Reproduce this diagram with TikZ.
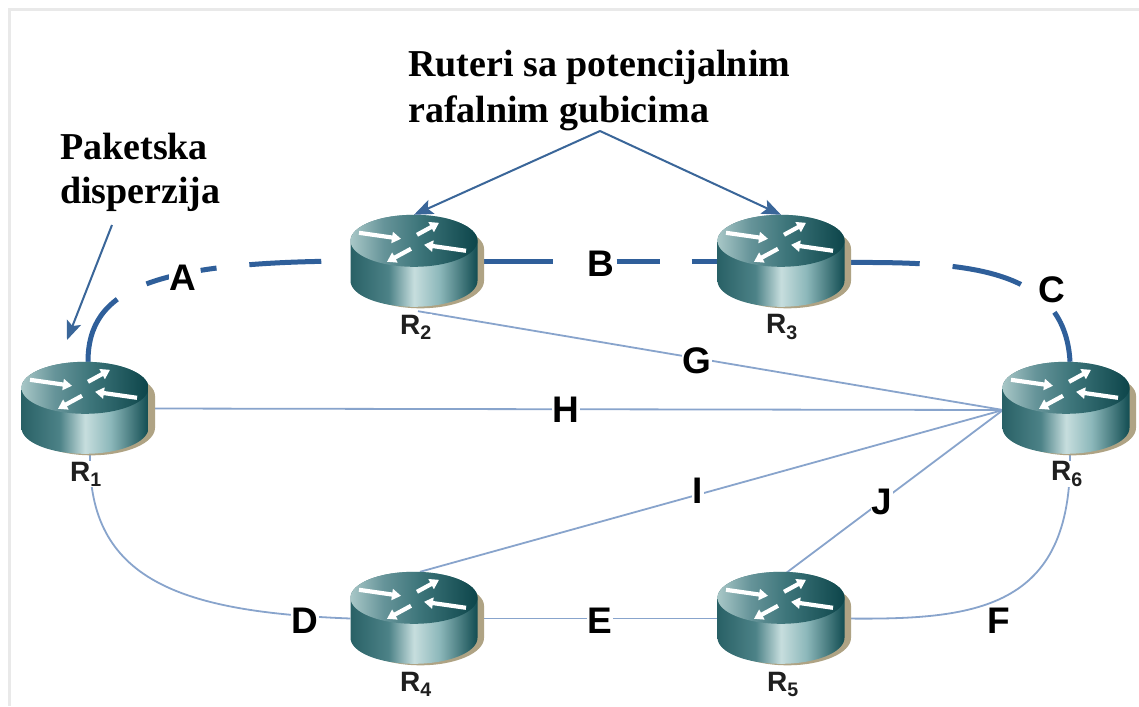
\documentclass[tikz,border=0pt]{standalone}
\usepackage{fontspec}
\setmainfont{Liberation Serif}
\newfontfamily\lblfont{Liberation Sans}
\usetikzlibrary{arrows.meta,calc}
\definecolor{thick}{HTML}{2F5F9A}
\definecolor{thin}{HTML}{88A4CC}
\definecolor{callout}{HTML}{3A6699}
\definecolor{beige}{HTML}{AFA384}
\definecolor{frame}{HTML}{E9E9E9}
\pgfdeclarehorizontalshading{routerside}{100bp}{
  rgb(0bp)=(0.16,0.38,0.40);
  rgb(25bp)=(0.16,0.38,0.40);
  rgb(40bp)=(0.30,0.51,0.53);
  rgb(50bp)=(0.78,0.87,0.87);
  rgb(60bp)=(0.55,0.72,0.73);
  rgb(75bp)=(0.07,0.30,0.32);
  rgb(100bp)=(0.07,0.30,0.32)}
\pgfdeclarehorizontalshading{routertop}{100bp}{
  rgb(0bp)=(0.66,0.78,0.78);
  rgb(25bp)=(0.66,0.78,0.78);
  rgb(38bp)=(0.40,0.58,0.60);
  rgb(52bp)=(0.24,0.46,0.48);
  rgb(75bp)=(0.05,0.27,0.29);
  rgb(100bp)=(0.05,0.27,0.29)}
\tikzset{
  x=1pt,y=-1pt,
  routerbox/.style={inner sep=0pt,minimum width=127pt,minimum height=93pt},
  rlabel/.style={font=\lblfont\bfseries\fontsize{28}{28}\selectfont,text=black!88,fill=white,inner sep=0.5pt},
  linklabel/.style={font=\lblfont\bfseries\fontsize{37}{37}\selectfont,text=black,fill=white,inner sep=1pt},
  titletext/.style={font=\bfseries\fontsize{38}{46}\selectfont,align=left,text=black,inner sep=0pt},
  heavylink/.style={draw=thick,line width=5pt},
  lightlink/.style={draw=thin,line width=1.8pt},
  calloutarrow/.style={draw=callout,line width=2pt,-{Stealth[length=19pt,width=15pt,inset=4pt]}},
  whitearrow/.style={draw=white,line width=4.2pt,-{Triangle[length=9pt,width=11pt]}},
}
\newcommand{\routerbody}[1]{%
  \begin{scope}[shift={(#1.north)}]
    % shadow
    \fill[beige] (-57,34) arc[start angle=180,end angle=360,x radius=63.5,y radius=26]
       -- (70,66) arc[start angle=0,end angle=180,x radius=63.5,y radius=27.5] -- cycle;
    % side
    \shade[shading=routerside]
      (-63.5,26) -- (-63.5,66) arc[start angle=180,end angle=0,x radius=63.5,y radius=26]
      -- (63.5,26) arc[start angle=0,end angle=-180,x radius=63.5,y radius=26] -- cycle;
    % top
    \shade[shading=routertop]
      (0,26) ellipse[x radius=63.5,y radius=26];
    % arrows
    \draw[whitearrow] (-55,18) -- (-13,24);
    \draw[whitearrow] (3,20) -- (25,8);
    \draw[whitearrow] (52,36) -- (10,30);
    \draw[whitearrow] (-3,34) -- (-27,47);
  \end{scope}}
\begin{document}
\begin{tikzpicture}
\useasboundingbox (0,0) rectangle (1139,706);
\fill[white] (0,0) rectangle (1139,706);
\draw[frame,line width=3pt] (9,706) -- (9,10) -- (1139,10);
% router anchors
\node[routerbox] (R1) at (85,408.5) {};
\node[routerbox] (R2) at (414,261.5) {};
\node[routerbox] (R3) at (781,261.5) {};
\node[routerbox] (R4) at (414,618.5) {};
\node[routerbox] (R5) at (781,618.5) {};
\node[routerbox] (R6) at (1066,408.5) {};
\coordinate (hub) at (1003,410);
\coordinate (apex) at (600,131);
\coordinate (disp) at (112,225);
\coordinate (dispEnd) at (67,340);
% heavy links
\draw[heavylink,dash pattern=on 72pt off 33pt on 25pt off 31pt on 16pt off 33pt on 72pt off 200pt]
  (R1.north) ++(3,0) .. controls (88,290) and (150,262) .. (350,261);
\draw[heavylink,dash pattern=on 75pt off 64pt on 43pt off 32pt on 30pt off 100pt]
  (R2.east) -- (R3.west);
\draw[heavylink,dash pattern=on 75pt off 33pt on 71pt off 44pt on 60pt off 100pt]
  (R3.east) ++(0,1) .. controls (960,262) and (1065,265) .. ($(R6.north)+(4,0)$);
% light links
\draw[lightlink] (R2.south) ++(4,3) -- (hub);
\draw[lightlink] (R1.east) -- (hub);
\draw[lightlink] (R4.north) ++(6,0) -- (hub);
\draw[lightlink] (R5.north) ++(4,2) -- (hub);
\draw[lightlink] (R1.south) ++(5,0) .. controls (88,580) and (180,612) .. (R4.west);
\draw[lightlink] (R4.east) -- (R5.west);
\draw[lightlink] (R5.east) .. controls (975,620) and (1072,610) .. ($(R6.south)+(4,0)$);
% routers
\routerbody{R1}\routerbody{R2}\routerbody{R3}\routerbody{R4}\routerbody{R5}\routerbody{R6}
% router labels
\node[rlabel] (l1) at (86,474) {R\textsubscript{1}};
\node[rlabel] (l2) at (416,327) {R\textsubscript{2}};
\node[rlabel] (l3) at (782,327) {R\textsubscript{3}};
\node[rlabel] (l4) at (416,684) {R\textsubscript{4}};
\node[rlabel] (l5) at (783,684) {R\textsubscript{5}};
\node[rlabel] (l6) at (1067,474) {R\textsubscript{6}};
% link labels
\node[linklabel] (A) at (183,278) {A};
\node[linklabel] (B) at (601,264) {B};
\node[linklabel] (C) at (1052,290) {C};
\node[linklabel] (D) at (305,621) {D};
\node[linklabel] (E) at (600,621) {E};
\node[linklabel] (F) at (999,621) {F};
\node[linklabel] (G) at (697,361) {G};
\node[linklabel] (H) at (566,410) {H};
\node[linklabel] (I) at (698,491) {I};
\node[linklabel] (J) at (882,502) {J};
% titles
\node[titletext,anchor=north west] (t1) at (408,50) {Ruteri sa potencijalnim\\rafalnim gubicima};
\node[titletext,anchor=north west] (t2) at (60,133) {Paketska\\[-2pt]disperzija};
% callouts
\draw[calloutarrow] (apex) -- (R2.north);
\draw[calloutarrow] (apex) -- (R3.north);
\draw[calloutarrow] (disp) -- (dispEnd);
\end{tikzpicture}
\end{document}
